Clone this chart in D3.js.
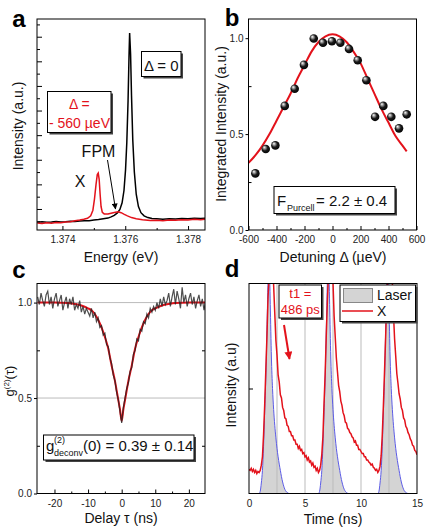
<!DOCTYPE html>
<html>
<head>
<meta charset="utf-8">
<script src="https://cdn.jsdelivr.net/npm/d3@7"></script>
<style>
body { margin: 0; background: #fff; }
svg { display: block; font-family: "Liberation Sans", Arial, sans-serif; }
</style>
</head>
<body>
<svg id="fig" width="426" height="528"></svg>
<script>
// ---- panel a : PL spectra (energy eV, intensity a.u.)
const specZero = [[1.37320,0.46],[1.37335,0.48],[1.37350,0.46],[1.37365,0.47],[1.37380,0.49],[1.37395,0.47],[1.37410,0.48],[1.37425,0.50],[1.37440,0.49],[1.37455,0.51],[1.37470,0.52],[1.37485,0.52],[1.37500,0.55],[1.37515,0.57],[1.37530,0.60],[1.37545,0.63],[1.37555,0.68],[1.37565,0.74],[1.37575,0.84],[1.37583,0.98],[1.37590,1.25],[1.37596,1.75],[1.37601,2.60],[1.37605,3.70],[1.37609,5.40],[1.37612,7.20],[1.37614,8.15],[1.37617,7.30],[1.37620,5.60],[1.37624,3.80],[1.37629,2.50],[1.37635,1.60],[1.37642,1.10],[1.37650,0.85],[1.37660,0.72],[1.37672,0.65],[1.37685,0.61],[1.37700,0.60],[1.37720,0.58],[1.37740,0.60],[1.37760,0.59],[1.37780,0.61],[1.37800,0.60],[1.37820,0.62],[1.37840,0.61],[1.37854,0.62]];
const specDetuned = [[1.37320,0.43],[1.37335,0.41],[1.37350,0.44],[1.37365,0.42],[1.37380,0.45],[1.37395,0.44],[1.37410,0.47],[1.37425,0.48],[1.37440,0.52],[1.37455,0.55],[1.37468,0.58],[1.37480,0.62],[1.37490,0.72],[1.37497,0.95],[1.37502,1.40],[1.37507,2.00],[1.37511,2.40],[1.37514,2.46],[1.37517,2.20],[1.37520,1.60],[1.37523,1.10],[1.37527,0.86],[1.37533,0.80],[1.37545,0.80],[1.37555,0.83],[1.37565,0.86],[1.37577,0.89],[1.37587,0.85],[1.37597,0.78],[1.37607,0.72],[1.37620,0.65],[1.37635,0.60],[1.37655,0.56],[1.37680,0.53],[1.37700,0.54],[1.37720,0.52],[1.37740,0.55],[1.37760,0.54],[1.37780,0.56],[1.37800,0.55],[1.37820,0.58],[1.37840,0.56],[1.37854,0.58]];
const energyTicks = [1.374, 1.376, 1.378];

// ---- panel b : integrated intensity vs detuning
const detuning = [-551,-477,-408,-341,-270,-204,-134,-68,-4,56,118,180,242,304,363,420,475,530];
const integrated = [0.295,0.422,0.441,0.647,0.736,0.861,0.998,0.976,0.984,0.976,0.944,0.885,0.781,0.590,0.647,0.590,0.530,0.603];
const purcellFit = [[-600,0.35],[-550,0.39],[-500,0.44],[-450,0.50],[-400,0.57],[-350,0.64],[-300,0.71],[-250,0.79],[-200,0.86],[-150,0.93],[-100,0.98],[-50,1.01],[0,1.02],[50,1.01],[100,0.98],[150,0.93],[200,0.87],[250,0.79],[300,0.71],[350,0.63],[400,0.56],[450,0.49],[500,0.44],[530,0.41]];
const detuningTicks = [-600,-400,-200,0,200,400,600];

// ---- panel c : g2 autocorrelation, sampled every 0.5 ns from -25 to 25
const g2Values = [1.03,0.99,1.05,1.01,0.98,1.04,1.06,0.99,1.03,0.97,1.02,1.05,0.98,1.01,1.04,0.96,1.00,1.03,0.97,1.02,0.99,1.03,0.96,0.99,0.97,1.01,0.95,0.98,0.94,0.97,0.95,0.93,0.97,0.92,0.95,0.90,0.92,0.87,0.88,0.83,0.84,0.78,0.77,0.71,0.68,0.62,0.59,0.53,0.49,0.43,0.37,0.45,0.50,0.55,0.58,0.64,0.66,0.73,0.75,0.81,0.80,0.86,0.85,0.90,0.89,0.94,0.92,0.97,0.95,0.98,0.96,1.00,0.97,1.02,0.98,1.03,0.99,1.01,1.05,0.98,1.03,1.07,0.99,1.06,1.02,0.97,1.08,1.00,1.04,0.98,1.02,1.05,0.99,1.03,0.97,1.01,1.04,0.98,1.02,0.96,1.01];
const g2Fit = [[-25,1.0],[-20,1.0],[-16,0.998],[-14,0.993],[-12,0.985],[-10,0.97],[-9,0.96],[-8,0.94],[-7,0.91],[-6,0.87],[-5,0.82],[-4,0.76],[-3,0.67],[-2,0.59],[-1.5,0.54],[-1,0.49],[-0.5,0.44],[0,0.38],[0.5,0.44],[1,0.49],[1.5,0.54],[2,0.59],[3,0.67],[4,0.76],[5,0.82],[6,0.87],[7,0.91],[8,0.94],[9,0.96],[10,0.97],[12,0.985],[14,0.993],[16,0.998],[20,1.0],[25,1.0]];
const delayTicks = [-20,-10,0,10,20];

// ---- panel d : time resolved PL, X sampled every 0.1 ns from 0 to 15
const laser = [[0,0],[0.9,0],[1.0,0.02],[1.1,0.10],[1.2,0.22],[1.3,0.45],[1.4,0.78],[1.5,1.10],[1.6,1.55],[1.7,2.05],[1.75,2.35],[1.8,2.25],[1.9,1.80],[2.0,1.30],[2.1,1.00],[2.2,0.80],[2.3,0.65],[2.4,0.53],[2.5,0.43],[2.6,0.35],[2.7,0.28],[2.8,0.22],[2.9,0.16],[3.0,0.11],[3.1,0.07],[3.2,0.04],[3.4,0.01],[3.6,0],
  [6.2,0],[6.3,0.02],[6.4,0.10],[6.5,0.22],[6.6,0.45],[6.7,0.78],[6.8,1.10],[6.9,1.55],[7.0,2.05],[7.05,2.35],[7.1,2.25],[7.2,1.80],[7.3,1.30],[7.4,1.00],[7.5,0.80],[7.6,0.65],[7.7,0.53],[7.8,0.43],[7.9,0.35],[8.0,0.28],[8.1,0.22],[8.2,0.16],[8.3,0.11],[8.4,0.07],[8.5,0.04],[8.7,0.01],[8.9,0],
  [11.5,0],[11.6,0.02],[11.7,0.10],[11.8,0.22],[11.9,0.45],[12.0,0.78],[12.1,1.10],[12.2,1.55],[12.3,2.05],[12.35,2.35],[12.4,2.25],[12.5,1.80],[12.6,1.30],[12.7,1.00],[12.8,0.80],[12.9,0.65],[13.0,0.53],[13.1,0.43],[13.2,0.35],[13.3,0.28],[13.4,0.22],[13.5,0.16],[13.6,0.11],[13.7,0.07],[13.8,0.04],[14.0,0.01],[14.2,0],[15,0]];
const excitonValues = [0.23,0.22,0.24,0.21,0.23,0.20,0.22,0.19,0.21,0.20,
  0.22,0.27,0.35,0.56,0.84,1.17,1.49,1.87,2.08,2.32,
  2.38,2.31,1.98,1.72,1.46,1.32,1.13,1.06,0.94,0.91,
  0.82,0.79,0.72,0.71,0.65,0.64,0.59,0.59,0.55,0.55,
  0.51,0.51,0.47,0.47,0.43,0.45,0.41,0.42,0.38,0.39,
  0.35,0.36,0.32,0.34,0.30,0.31,0.27,0.29,0.25,0.26,
  0.22,0.24,0.20,0.22,0.27,0.37,0.54,0.86,1.14,1.51,
  1.84,2.11,2.29,2.41,2.28,2.01,1.69,1.49,1.29,1.16,
  1.03,0.97,0.88,0.84,0.77,0.74,0.68,0.67,0.62,0.61,
  0.58,0.57,0.54,0.53,0.49,0.50,0.46,0.46,0.42,0.42,
  0.40,0.38,0.38,0.35,0.35,0.32,0.32,0.30,0.29,0.27,
  0.28,0.25,0.24,0.22,0.23,0.20,0.22,0.26,0.36,0.56,
  0.84,1.16,1.49,1.86,2.09,2.31,2.39,2.29,2.01,1.71,
  1.47,1.31,1.14,1.05,0.95,0.90,0.82,0.79,0.72,0.70,
  0.64,0.62,0.58,0.56,0.52,0.50,0.46,0.45,0.41,0.40,
  0.37];
const timeTicks = [0, 5, 10, 15];
const timeGrid = [2.5, 5, 7.5, 10, 12.5];

const FONT = '"Liberation Sans", Arial, sans-serif';
const RED = '#e3121b';
const svg = d3.select('#fig');
const defs = svg.append('defs');

// shaded sphere for the points of panel b
const ball = defs.append('radialGradient').attr('id', 'ball')
  .attr('cx', '45%').attr('cy', '45%').attr('r', '60%').attr('fx', '32%').attr('fy', '28%');
ball.append('stop').attr('offset', '0%').attr('stop-color', '#fff');
ball.append('stop').attr('offset', '25%').attr('stop-color', '#999');
ball.append('stop').attr('offset', '55%').attr('stop-color', '#1a1a1a');
ball.append('stop').attr('offset', '100%').attr('stop-color', '#000');

function arrowMarker(id, color, w, h) {
  defs.append('marker').attr('id', id)
    .attr('viewBox', '0 0 10 10').attr('refX', 9).attr('refY', 5)
    .attr('markerUnits', 'userSpaceOnUse')
    .attr('markerWidth', w).attr('markerHeight', h).attr('orient', 'auto')
    .append('path').attr('d', 'M0,0L10,5L0,10z').attr('fill', color);
}
arrowMarker('arrBlack', '#000', 7, 6);
arrowMarker('arrRed', RED, 9, 8);

function panel(id, x0, x1, y0, y1) {
  defs.append('clipPath').attr('id', 'clip-' + id)
    .append('rect').attr('x', x0).attr('y', y0).attr('width', x1 - x0).attr('height', y1 - y0);
  const g = svg.append('g');
  const plot = g.append('g').attr('clip-path', 'url(#clip-' + id + ')');
  return { g: g, plot: plot, box: [x0, x1, y0, y1] };
}

function frame(p) {
  const b = p.box;
  p.g.append('rect').attr('x', b[0]).attr('y', b[2]).attr('width', b[1] - b[0]).attr('height', b[3] - b[2])
    .attr('fill', 'none').attr('stroke', '#000').attr('stroke-width', 1);
}

function axisAt(p, axis, tx, ty) {
  const a = p.g.append('g').attr('transform', 'translate(' + tx + ',' + ty + ')').call(axis);
  a.select('.domain').remove();
  a.attr('font-family', FONT).attr('font-size', 10);
  a.selectAll('text').attr('fill', '#222');
  a.selectAll('line').attr('stroke', '#000');
  return a;
}

function label(txt, x, y, opts) {
  opts = opts || {};
  return svg.append('text').attr('x', x).attr('y', y)
    .attr('font-size', opts.size || 14).attr('font-weight', opts.weight || 'normal')
    .attr('fill', opts.fill || '#111').attr('text-anchor', opts.anchor || 'middle')
    .text(txt);
}

function vlabel(txt, x, y, size) {
  return svg.append('text').attr('transform', 'translate(' + x + ',' + y + ') rotate(-90)')
    .attr('font-size', size || 14).attr('fill', '#111').attr('text-anchor', 'middle').text(txt);
}

function shadowBox(x, y, w, h) {
  svg.append('rect').attr('x', x + 2).attr('y', y + 2).attr('width', w).attr('height', h).attr('fill', '#444');
  svg.append('rect').attr('x', x).attr('y', y).attr('width', w).attr('height', h)
    .attr('fill', '#fff').attr('stroke', '#000').attr('stroke-width', 1);
}

const plain = d => String(d);

// ================= panel a
const pa = panel('a', 37, 205, 19, 230);
const xa = d3.scaleLinear().domain([1.37319, 1.37854]).range([37, 205]);
const ya = d3.scaleLinear().domain([0.146, 8.72]).range([230, 19]);
const lineA = d3.line().x(d => xa(d[0])).y(d => ya(d[1]));
pa.plot.append('path').datum(specZero).attr('d', lineA)
  .attr('fill', 'none').attr('stroke', '#000').attr('stroke-width', 1.5);
pa.plot.append('path').datum(specDetuned).attr('d', lineA)
  .attr('fill', 'none').attr('stroke', RED).attr('stroke-width', 1.5);
frame(pa);
axisAt(pa, d3.axisRight(ya).tickValues(d3.range(1, 9)).tickSize(5).tickFormat(''), 37, 0);
axisAt(pa, d3.axisRight(ya).tickValues(d3.range(0.5, 8.6, 1)).tickSize(3).tickFormat(''), 37, 0);
axisAt(pa, d3.axisBottom(xa).tickValues(energyTicks).tickSize(-4).tickPadding(6).tickFormat(d3.format('.3f')), 0, 230);
axisAt(pa, d3.axisBottom(xa).tickValues([1.375, 1.377]).tickSize(-2).tickFormat(''), 0, 230);

shadowBox(141.5, 51.5, 39.5, 25);
label('\u0394 = 0', 161.3, 70.5, { size: 15 });
shadowBox(47.5, 91.5, 63.5, 41);
label('\u0394 =', 79.3, 108.5, { size: 14, fill: RED });
label('- 560 \u00b5eV', 79.5, 127.5, { size: 14, fill: RED });
label('FPM', 98.5, 156.5, { size: 16 });
label('X', 80, 187, { size: 16 });
svg.append('line').attr('x1', 107.5).attr('y1', 160).attr('x2', 115.5).attr('y2', 209)
  .attr('stroke', '#000').attr('stroke-width', 1).attr('marker-end', 'url(#arrBlack)');
label('Energy (eV)', 121, 262, { size: 14 });
vlabel('Intensity (a.u.)', 23, 126, 14);
label('a', 19, 27, { size: 24, weight: 'bold', fill: '#000' });

// ================= panel b
const pb = panel('b', 248.5, 416.5, 19, 230);
const xb = d3.scaleLinear().domain([-600, 600]).range([248.5, 416.5]);
const yb = d3.scaleLinear().domain([0, 1.1]).range([230, 19]);
pb.plot.append('path').datum(purcellFit)
  .attr('d', d3.line().x(d => xb(d[0])).y(d => yb(d[1])).curve(d3.curveMonotoneX))
  .attr('fill', 'none').attr('stroke', RED).attr('stroke-width', 2);
pb.plot.selectAll('circle').data(detuning).enter().append('circle')
  .attr('cx', d => xb(d)).attr('cy', (d, i) => yb(integrated[i])).attr('r', 4.3)
  .attr('fill', 'url(#ball)');
frame(pb);
axisAt(pb, d3.axisLeft(yb).tickValues([0, 0.5, 1]).tickSize(3).tickPadding(2).tickFormat(d3.format('.1f')), 248.5, 0);
axisAt(pb, d3.axisRight(yb).tickValues([0.25, 0.75]).tickSize(3).tickFormat(''), 248.5, 0);
axisAt(pb, d3.axisBottom(xb).tickValues(detuningTicks).tickSize(-4).tickPadding(6).tickFormat(plain), 0, 230);
axisAt(pb, d3.axisBottom(xb).tickValues([-500, -300, -100, 100, 300, 500]).tickSize(-2).tickFormat(''), 0, 230);

shadowBox(274, 186.5, 121, 27);
label('F', 277, 206, { size: 15, anchor: 'start' });
label('Purcell', 287, 210.5, { size: 9, anchor: 'start' });
label('= 2.2 \u00b1 0.4', 316, 206, { size: 15, anchor: 'start' });
label('Detuning \u0394 (\u00b5eV)', 333, 262, { size: 14 });
vlabel('Integrated Intensity (a.u.)', 226, 124, 14);
label('b', 232, 26, { size: 24, weight: 'bold', fill: '#000' });

// ================= panel c
const pc = panel('c', 37, 205, 283.5, 493.5);
const xc = d3.scaleLinear().domain([-25.2, 24.8]).range([37, 205]);
const yc = d3.scaleLinear().domain([0, 1.1]).range([493.5, 283.5]);
const g2Tau = d3.range(-25, 25.01, 0.5);
pc.plot.selectAll('line.grid').data([0.5, 1.0]).enter().append('line')
  .attr('x1', 37).attr('x2', 205).attr('y1', d => yc(d)).attr('y2', d => yc(d))
  .attr('stroke', '#aaa').attr('stroke-width', 0.8);
pc.plot.append('path').datum(g2Fit)
  .attr('d', d3.line().x(d => xc(d[0])).y(d => yc(d[1])).curve(d3.curveMonotoneX))
  .attr('fill', 'none').attr('stroke', RED).attr('stroke-width', 2);
pc.plot.append('path').datum(g2Values)
  .attr('d', d3.line().x((d, i) => xc(g2Tau[i])).y(d => yc(d)))
  .attr('fill', 'none').attr('stroke', '#222').attr('stroke-opacity', 0.8).attr('stroke-width', 1.2);
frame(pc);
axisAt(pc, d3.axisLeft(yc).tickValues([0, 0.5, 1]).tickSize(3).tickPadding(2).tickFormat(d3.format('.1f')), 37, 0);
axisAt(pc, d3.axisRight(yc).tickValues([0.25, 0.75]).tickSize(3).tickFormat(''), 37, 0);
axisAt(pc, d3.axisLeft(yc).tickValues([0.25, 0.75]).tickSize(3).tickFormat(''), 205, 0);
axisAt(pc, d3.axisBottom(xc).tickValues(delayTicks).tickSize(-4).tickPadding(6).tickFormat(plain), 0, 493.5);
axisAt(pc, d3.axisBottom(xc).tickValues([-15, -5, 5, 15]).tickSize(-2).tickFormat(''), 0, 493.5);

shadowBox(43.5, 435, 150.5, 25);
label('g', 46, 451, { size: 15, anchor: 'start' });
label('(2)', 54, 442.5, { size: 9, anchor: 'start' });
label('deconv', 54, 456, { size: 9, anchor: 'start' });
label('(0) = 0.39 \u00b1 0.14', 83, 451, { size: 15, anchor: 'start' });
label('Delay \u03c4 (ns)', 121, 523, { size: 14 });
const gl = svg.append('text').attr('transform', 'translate(14,381) rotate(-90)')
  .attr('font-size', 13).attr('fill', '#111').attr('text-anchor', 'middle');
gl.append('tspan').text('g');
gl.append('tspan').attr('font-size', 8).attr('dy', -5).text('(2)');
gl.append('tspan').attr('dy', 5).text('(\u03c4)');
label('c', 19, 278, { size: 24, weight: 'bold', fill: '#000' });

// ================= panel d
const pd = panel('d', 249, 417, 283.5, 493.5);
const xd = d3.scaleLinear().domain([0, 15]).range([249, 417]);
const yd = d3.scaleLinear().domain([0, 2]).range([493.5, 283.5]);
const tGrid = d3.range(0, 15.001, 0.1);
pd.plot.append('path').datum(laser)
  .attr('d', d3.area().x(d => xd(d[0])).y0(yd(0)).y1(d => yd(d[1])).curve(d3.curveMonotoneX))
  .attr('fill', '#d4d4d4');
pd.plot.selectAll('line.grid').data(timeGrid).enter().append('line')
  .attr('x1', d => xd(d)).attr('x2', d => xd(d)).attr('y1', 283.5).attr('y2', 493.5)
  .attr('stroke', '#bbb').attr('stroke-width', 1);
pd.plot.append('path').datum(laser)
  .attr('d', d3.line().x(d => xd(d[0])).y(d => yd(d[1])).curve(d3.curveMonotoneX))
  .attr('fill', 'none').attr('stroke', '#5c5ce6').attr('stroke-width', 1);
pd.plot.append('path').datum(excitonValues)
  .attr('d', d3.line().x((d, i) => xd(tGrid[i])).y(d => yd(d)))
  .attr('fill', 'none').attr('stroke', RED).attr('stroke-width', 1.5);
frame(pd);
axisAt(pd, d3.axisRight(yd).tickValues([1]).tickSize(4).tickFormat(''), 249, 0);
axisAt(pd, d3.axisBottom(xd).tickValues(timeTicks).tickSize(0).tickPadding(6).tickFormat(plain), 0, 493.5);

// legend
shadowBox(340, 285, 75.5, 36.5);
svg.append('rect').attr('x', 343.5).attr('y', 288.5).attr('width', 29).attr('height', 14)
  .attr('fill', '#d4d4d4').attr('stroke', '#888').attr('stroke-width', 1);
label('Laser', 377, 299.5, { size: 14, anchor: 'start' });
svg.append('line').attr('x1', 342).attr('x2', 373).attr('y1', 311).attr('y2', 311)
  .attr('stroke', RED).attr('stroke-width', 1.5);
label('X', 377, 316, { size: 14, anchor: 'start' });

shadowBox(279, 285, 42.5, 33);
label('t1 =', 300.3, 297.5, { size: 13, fill: RED });
label('486 ps', 300.3, 313.5, { size: 13, fill: RED });
svg.append('line').attr('x1', 284).attr('y1', 325).attr('x2', 289.5).attr('y2', 359)
  .attr('stroke', RED).attr('stroke-width', 2).attr('marker-end', 'url(#arrRed)');

label('Time (ns)', 333, 524, { size: 14 });
vlabel('Intensity (a.u)', 236, 385, 14);
label('d', 232, 277, { size: 24, weight: 'bold', fill: '#000' });
</script>
</body>
</html>
